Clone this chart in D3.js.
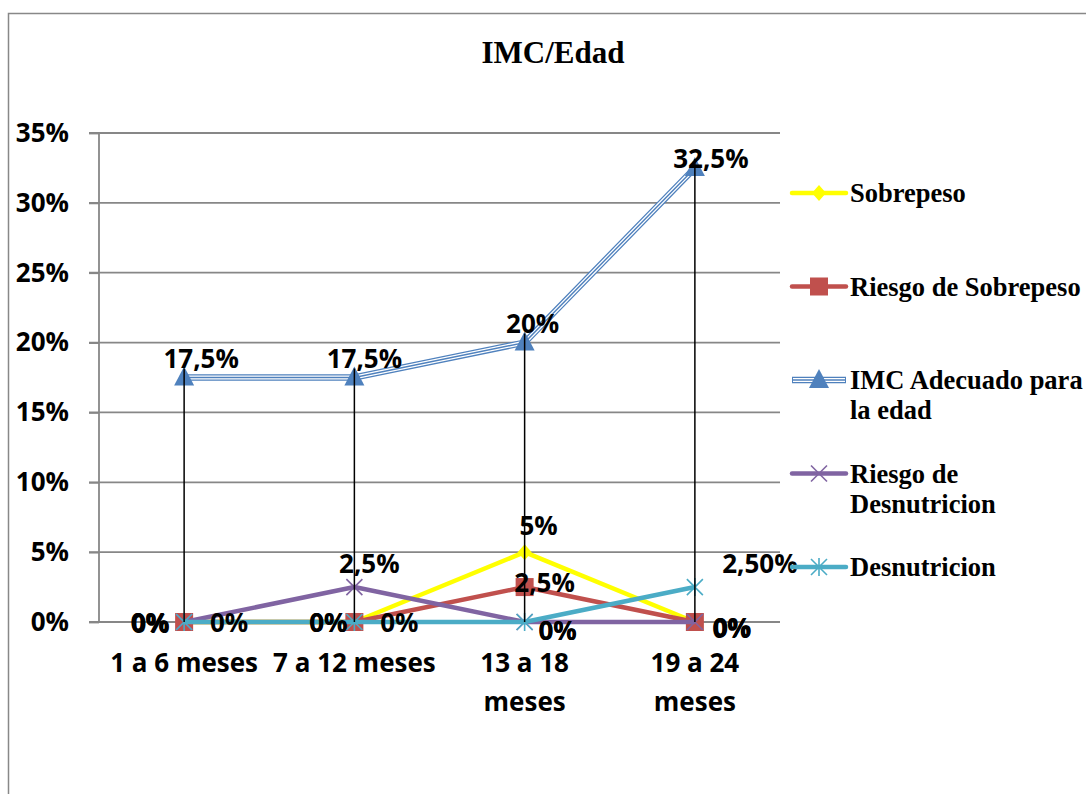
<!DOCTYPE html>
<html>
<head>
<meta charset="utf-8">
<script src="https://cdn.jsdelivr.net/npm/d3@7"></script>
<style>
  html, body { margin: 0; padding: 0; background: #fff; }
  svg { display: block; }
</style>
</head>
<body>
<svg id="chart" width="1086" height="794"></svg>
<script>
// ---------- DATA ----------
const title = "IMC/Edad";
const categories = ["1 a 6 meses", "7 a 12 meses", "13 a 18 meses", "19 a 24 meses"];
const seriesNames = ["Sobrepeso", "Riesgo de Sobrepeso", "IMC Adecuado para la edad", "Riesgo de Desnutricion", "Desnutricion"];
const sobrepeso = [0, 0, 0.05, 0];
const riesgoSobrepeso = [0, 0, 0.025, 0];
const imcAdecuado = [0.175, 0.175, 0.20, 0.325];
const riesgoDesnutricion = [0, 0.025, 0, 0];
const desnutricion = [0, 0, 0, 0.025];
const yTicks = [0, 0.05, 0.10, 0.15, 0.20, 0.25, 0.30, 0.35];
// data label texts as printed in the chart
const labelsSobrepeso = ["0%", "0%", "5%", "0%"];
const labelsRiesgoSobrepeso = ["0%", "0%", "2,5%", "0%"];
const labelsImc = ["17,5%", "17,5%", "20%", "32,5%"];
const labelsRiesgoDesnutricion = ["0%", "2,5%", "0%", "0%"];
const labelsDesnutricion = ["0%", "0%", "0%", "2,50%"];

// ---------- STYLE ----------
const seriesValues = [sobrepeso, riesgoSobrepeso, imcAdecuado, riesgoDesnutricion, desnutricion];
const seriesLabels = [labelsSobrepeso, labelsRiesgoSobrepeso, labelsImc, labelsRiesgoDesnutricion, labelsDesnutricion];
const colors = ["#FFFF00", "#C0504D", "#4F81BD", "#8064A2", "#4BACC6"];
const markers = ["diamond", "square", "triangle", "x", "asterisk"];
// label centre offsets relative to the point [dx, dy]
const labelOffsets = [
  [[-34.5, 0], [-26, 0], [14, -27], [37, 5]],
  [[-33.5, 0.5], [45, 0], [20, -5], [37.5, 5]],
  [[17, -20], [10, -20], [8, -20], [16, -10]],
  [[-34, -0.5], [15, -24], [33, 8], [36.5, 5.5]],
  [[45, 0], [-26, 0], [33, 8], [65, -24]]
];

const svg = d3.select("#chart");
const sansFont = "'Open Sans', 'Liberation Sans', sans-serif";
const serifFont = "'Liberation Serif', 'DejaVu Serif', serif";

// outer chart border
svg.append("path")
  .attr("d", "M8.5,794 L8.5,13.5 L1086,13.5")
  .attr("fill", "none").attr("stroke", "#888").attr("stroke-width", 1.5);

// title
svg.append("text").attr("x", 553).attr("y", 63)
  .attr("text-anchor", "middle")
  .style("font-family", serifFont).style("font-weight", "bold").style("font-size", "31px")
  .text(title);

const plot = { left: 99, right: 780, top: 133, bottom: 622 };
const x = d3.scaleBand().domain(categories).range([plot.left, plot.right]).padding(0);
const cx = c => x(c) + x.bandwidth() / 2;
const y = d3.scaleLinear().domain([0, 0.35]).range([plot.bottom, plot.top]);

// gridlines
svg.append("g").selectAll("line").data(yTicks).join("line")
  .attr("x1", plot.left - 10).attr("x2", plot.right)
  .attr("y1", d => y(d)).attr("y2", d => y(d))
  .attr("stroke", "#878787").attr("stroke-width", 1.8);

// y axis
const yAxis = d3.axisLeft(y).tickValues(yTicks).tickFormat(d3.format(".0%")).tickSize(10).tickPadding(20);
const yg = svg.append("g").attr("transform", `translate(${plot.left},0)`).call(yAxis);
yg.select(".domain").attr("stroke", "#878787").attr("stroke-width", 1.8).attr("d", `M0,${plot.top}V${plot.bottom}`);
yg.selectAll(".tick line").attr("stroke", "#878787").attr("stroke-width", 1.8);
yg.selectAll(".tick text")
  .style("font-family", sansFont).style("font-weight", "bold").style("font-size", "26px").attr("fill", "#000");

// x axis labels with wrapping
const xAxis = d3.axisBottom(x).tickSize(0).tickPadding(32);
const xg = svg.append("g").attr("transform", `translate(0,${plot.bottom})`).call(xAxis);
xg.select(".domain").remove();
xg.selectAll(".tick text")
  .style("font-family", sansFont).style("font-weight", "bold").style("font-size", "26px").attr("fill", "#000")
  .call(wrap, x.bandwidth());

function wrap(texts, width) {
  texts.each(function() {
    const text = d3.select(this);
    const words = text.text().split(/\s+/);
    const yAttr = text.attr("y");
    const dy = parseFloat(text.attr("dy")) || 0;
    text.text(null);
    let line = [];
    let lineNo = 0;
    let tspan = text.append("tspan").attr("x", 0).attr("y", yAttr).attr("dy", dy + "em");
    for (const w of words) {
      line.push(w);
      tspan.text(line.join(" "));
      if (tspan.node().getComputedTextLength() > width && line.length > 1) {
        line.pop();
        tspan.text(line.join(" "));
        line = [w];
        lineNo++;
        tspan = text.append("tspan").attr("x", 0).attr("y", yAttr)
          .attr("dy", (lineNo * 1.48 + dy) + "em").text(w);
      }
    }
  });
}

// marker drawing
function drawMarker(g, type, color, px, py) {
  if (type === "diamond") {
    g.append("path").attr("d", `M${px},${py - 8}L${px + 7},${py}L${px},${py + 8}L${px - 7},${py}Z`).attr("fill", color);
  } else if (type === "square") {
    g.append("rect").attr("x", px - 9).attr("y", py - 9).attr("width", 18).attr("height", 18).attr("fill", color);
  } else if (type === "triangle") {
    g.append("path").attr("d", `M${px},${py - 11}L${px + 10},${py + 8}L${px - 10},${py + 8}Z`).attr("fill", color);
  } else if (type === "x") {
    g.append("path").attr("d", `M${px - 8},${py - 8}L${px + 8},${py + 8}M${px - 8},${py + 8}L${px + 8},${py - 8}`)
      .attr("stroke", color).attr("stroke-width", 1.6);
  } else if (type === "asterisk") {
    g.append("path").attr("d", `M${px - 8},${py - 8}L${px + 8},${py + 8}M${px - 8},${py + 8}L${px + 8},${py - 8}M${px},${py - 9}L${px},${py + 9}`)
      .attr("stroke", color).attr("stroke-width", 1.6);
  }
}

const line = d3.line().x((d, i) => cx(categories[i])).y(d => y(d));

// series lines + markers
const seriesG = svg.append("g");
seriesValues.forEach((vals, si) => {
  const g = seriesG.append("g");
  if (si === 2) {
    g.append("path").attr("d", line(vals)).attr("fill", "none").attr("stroke", colors[si]).attr("stroke-width", 6.5);
    g.append("path").attr("d", line(vals)).attr("fill", "none").attr("stroke", "#fff").attr("stroke-width", 4);
    g.append("path").attr("d", line(vals)).attr("fill", "none").attr("stroke", colors[si]).attr("stroke-width", 1.4);
  } else {
    g.append("path").attr("d", line(vals)).attr("fill", "none").attr("stroke", colors[si])
      .attr("stroke-width", 4.5).attr("stroke-linejoin", "round");
  }
  vals.forEach((v, i) => drawMarker(g, markers[si], colors[si], cx(categories[i]), y(v)));
});

// drop lines from IMC series
svg.append("g").selectAll("line").data(imcAdecuado).join("line")
  .attr("x1", (d, i) => cx(categories[i])).attr("x2", (d, i) => cx(categories[i]))
  .attr("y1", d => y(d) - 9).attr("y2", y(0))
  .attr("stroke", "#000").attr("stroke-width", 1.5);

// data labels
const labelG = svg.append("g");
seriesValues.forEach((vals, si) => {
  vals.forEach((v, i) => {
    const [dx, dy] = labelOffsets[si][i];
    labelG.append("text")
      .attr("x", cx(categories[i]) + dx).attr("y", y(v) + dy)
      .attr("text-anchor", "middle").attr("dominant-baseline", "central")
      .style("font-family", sansFont).style("font-weight", "bold").style("font-size", "26px")
      .attr("fill", "#000")
      .text(seriesLabels[si][i]);
  });
});

// legend
const legend = svg.append("g");
seriesNames.forEach((name, si) => {
  const ly = 193 + si * 93.5;
  const g = legend.append("g");
  if (si === 2) {
    g.append("line").attr("x1", 792).attr("x2", 846).attr("y1", ly).attr("y2", ly).attr("stroke", colors[si]).attr("stroke-width", 6.5);
    g.append("line").attr("x1", 793).attr("x2", 845).attr("y1", ly).attr("y2", ly).attr("stroke", "#fff").attr("stroke-width", 4);
    g.append("line").attr("x1", 793).attr("x2", 845).attr("y1", ly).attr("y2", ly).attr("stroke", colors[si]).attr("stroke-width", 1.4);
  } else {
    g.append("line").attr("x1", 792).attr("x2", 846).attr("y1", ly).attr("y2", ly)
      .attr("stroke", colors[si]).attr("stroke-width", 4.5).attr("stroke-linecap", "round");
  }
  drawMarker(g, markers[si], colors[si], 819, ly);
  const t = g.append("text").attr("x", 850).attr("y", ly)
    .style("font-family", serifFont).style("font-weight", "bold").style("font-size", "26.5px")
    .attr("fill", "#000");
  // wrap legend text
  const words = name.split(" ");
  let cur = [];
  let lineNo = 0;
  let ts = t.append("tspan").attr("x", 850).attr("dy", "0.34em");
  for (const w of words) {
    cur.push(w);
    ts.text(cur.join(" "));
    if (ts.node().getComputedTextLength() > 236 && cur.length > 1) {
      cur.pop();
      ts.text(cur.join(" "));
      cur = [w];
      lineNo++;
      ts = t.append("tspan").attr("x", 850).attr("dy", "1.15em").text(w);
    }
  }
});
</script>
</body>
</html>
